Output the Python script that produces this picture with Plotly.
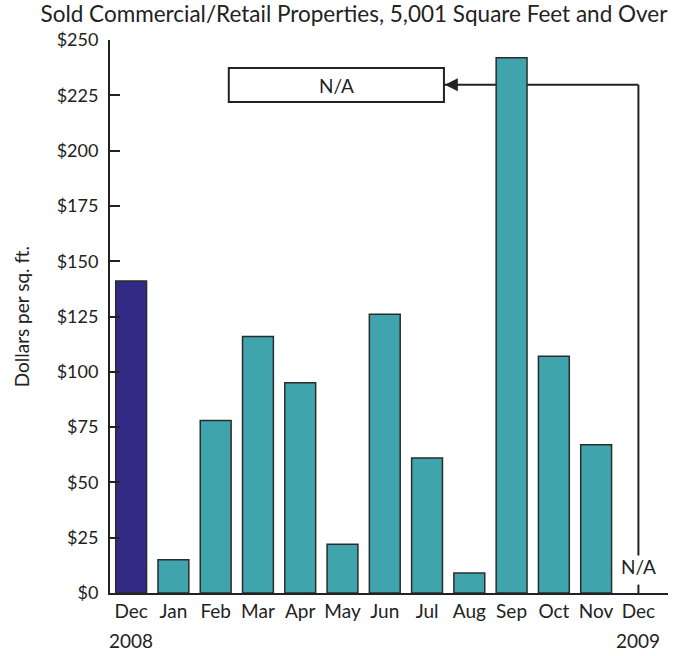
import plotly.graph_objects as go

months = ["Dec", "Jan", "Feb", "Mar", "Apr", "May", "Jun", "Jul", "Aug", "Sep", "Oct", "Nov", "Dec"]
years = ["2008", "", "", "", "", "", "", "", "", "", "", "", "2009"]
values = [141, 15, 78, 116, 95, 22, 126, 61, 9, 242, 107, 67, None]
bar_colors = ["#332a85"] + ["#40a4ac"] * 12
y_ticks = [0, 25, 50, 75, 100, 125, 150, 175, 200, 225, 250]
y_tick_text = ["$%d" % v for v in y_ticks]

x_idx = list(range(len(months)))
FONT = "Lato, 'Open Sans', sans-serif"
INK = "#222"

fig = go.Figure()
fig.add_trace(go.Bar(
    x=x_idx, y=values,
    marker=dict(color=bar_colors, line=dict(color="#2b2b2b", width=1.5)),
    width=0.73,
    hoverinfo="x+y",
))

# N/A callout: box, connector line behind bars, arrowhead
box_x0, box_x1, box_y0, box_y1 = 2.31, 7.4, 222, 237.3
line_y = 229.8
fig.add_shape(type="line", x0=box_x1, x1=12, y0=line_y, y1=line_y, xref="x", yref="y",
              line=dict(color=INK, width=2), layer="below")
fig.add_shape(type="line", x0=12, x1=12, y0=line_y, y1=17, xref="x", yref="y",
              line=dict(color=INK, width=2), layer="below")
fig.add_shape(type="line", x0=12, x1=12, y0=0, y1=3.8, xref="x", yref="y",
              line=dict(color=INK, width=2), layer="below")
fig.add_shape(type="rect", x0=box_x0, x1=box_x1, y0=box_y0, y1=box_y1, xref="x", yref="y",
              line=dict(color=INK, width=2), fillcolor="white")
fig.add_annotation(x=(box_x0 + box_x1) / 2, y=(box_y0 + box_y1) / 2, text="N/A", showarrow=False,
                   font=dict(family=FONT, size=19, color=INK))
fig.add_annotation(x=box_x1 + 0.02, y=line_y, ax=box_x1 + 0.35, ay=line_y, axref="x", ayref="y",
                   xref="x", yref="y", text="", showarrow=True, arrowhead=2, arrowsize=1.3,
                   arrowwidth=2, arrowcolor=INK)
fig.add_annotation(x=12, y=11.8, text="N/A", showarrow=False,
                   font=dict(family=FONT, size=19, color=INK))

# year labels under the month tick labels
for i, yr in enumerate(years):
    if yr:
        fig.add_annotation(x=i, y=0, yref="y", xref="x", yshift=-47, text=yr, showarrow=False,
                           font=dict(family=FONT, size=19, color=INK))

# y axis title
fig.add_annotation(x=-0.158, y=0.5, xref="paper", yref="paper", text="Dollars per sq. ft.",
                   textangle=-90, showarrow=False, xanchor="center", yanchor="middle",
                   font=dict(family=FONT, size=19, color=INK))

fig.update_layout(
    width=682, height=656,
    margin=dict(l=110, r=14, t=40, b=63),
    plot_bgcolor="white", paper_bgcolor="white",
    showlegend=False,
    font=dict(family=FONT, size=18, color=INK),
    title=dict(text="Sold Commercial/Retail Properties, 5,001 Square Feet and Over",
               x=0.519, xanchor="center", y=0.979, yanchor="middle",
               font=dict(family=FONT, size=22.5, color=INK)),
    xaxis=dict(range=[-0.5, 12.7], tickvals=x_idx, ticktext=months, showgrid=False,
               showline=True, linecolor=INK, linewidth=2, ticks="", zeroline=False,
               tickfont=dict(size=19)),
    yaxis=dict(range=[0, 250], tickvals=y_ticks, ticktext=y_tick_text, showgrid=False,
               showline=True, linecolor=INK, linewidth=2, ticks="inside", ticklen=10,
               tickwidth=2, tickcolor=INK, zeroline=False, tickfont=dict(size=18),
               ticklabelstandoff=6),
)

fig.write_html("out.html", config={"displayModeBar": False},
               post_script="document.body.style.margin='0';")
